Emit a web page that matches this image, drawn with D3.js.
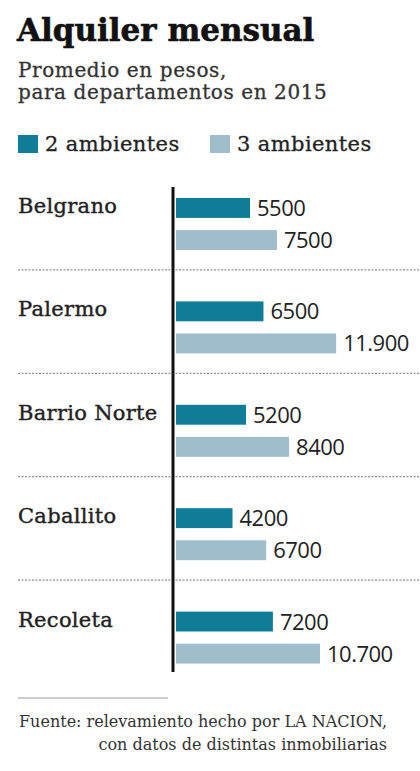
<!DOCTYPE html>
<html>
<head>
<meta charset="utf-8">
<script src="https://cdn.jsdelivr.net/npm/d3@7"></script>
<style>
  body { margin: 0; background: #fff; }
  svg { display: block; }
</style>
</head>
<body>
<svg width="420" height="771"></svg>
<script>
var barrios = ["Belgrano", "Palermo", "Barrio Norte", "Caballito", "Recoleta"];
var series = ["2 ambientes", "3 ambientes"];
var dos = [5500, 6500, 5200, 4200, 7200];
var tres = [7500, 11900, 8400, 6700, 10700];
var etiquetas2 = ["5500", "6500", "5200", "4200", "7200"];
var etiquetas3 = ["7500", "11.900", "8400", "6700", "10.700"];

var svg = d3.select("svg"),
    width = +svg.attr("width"),
    height = +svg.attr("height");

var colors = ["#0f7c98", "#a0bdcc"];
var serif = "'DejaVu Serif', serif";
var sans = "'Open Sans', 'Noto Sans', sans-serif";

// title block
svg.append("text")
    .attr("x", 17).attr("y", 41)
    .style("font-family", serif)
    .style("font-weight", "bold")
    .style("font-size", "31px")
    .attr("fill", "#111")
    .attr("stroke", "#111").attr("stroke-width", 0.6)
    .text("Alquiler mensual");

["Promedio en pesos,", "para departamentos en 2015"].forEach(function(t, i) {
    svg.append("text")
        .attr("x", 18).attr("y", 77 + i * 22)
        .style("font-family", serif)
        .style("font-size", "20px")
        .style("letter-spacing", "0.6px")
        .attr("fill", "#333")
        .attr("stroke", "#333").attr("stroke-width", 0.3)
        .text(t);
});

// legend
var legend = svg.selectAll(".legend")
    .data(series)
    .enter().append("g")
    .attr("class", "legend")
    .attr("transform", function(d, i) { return "translate(" + (18 + i * 192) + ",135)"; });
legend.append("rect")
    .attr("width", 20).attr("height", 18)
    .attr("fill", function(d, i) { return colors[i]; });
legend.append("text")
    .attr("x", 27).attr("y", 16)
    .style("font-family", serif)
    .style("font-size", "21px")
    .style("letter-spacing", "0.4px")
    .attr("fill", "#222")
    .attr("stroke", "#222").attr("stroke-width", 0.3)
    .text(function(d) { return d; });

// scales
var x = d3.scaleLinear().domain([0, 12000]).range([176, 337.5]);
var y = d3.scaleBand().domain(barrios).range([180, 697]).paddingInner(0).paddingOuter(0);
var yInner = d3.scaleBand().domain(series).range([18, 70]).paddingInner(0.38);

// separators
svg.append("g").selectAll("line")
    .data(barrios.slice(1))
    .enter().append("line")
    .attr("x1", 18).attr("x2", width)
    .attr("y1", function(d) { return y(d) - 13.5; })
    .attr("y2", function(d) { return y(d) - 13.5; })
    .attr("stroke", "#8f8f8f")
    .attr("stroke-width", 1.2)
    .attr("stroke-dasharray", "2,1.5");

var groups = svg.selectAll(".grupo")
    .data(barrios)
    .enter().append("g")
    .attr("class", "grupo")
    .attr("transform", function(d) { return "translate(0," + y(d) + ")"; });

groups.append("text")
    .attr("x", 18)
    .attr("y", 33)
    .style("font-family", serif)
    .style("font-size", "21px")
    .style("letter-spacing", "0.3px")
    .attr("fill", "#222")
    .attr("stroke", "#222").attr("stroke-width", 0.4)
    .text(function(d) { return d; });

var rows = [
    { vals: dos, labels: etiquetas2, key: series[0], color: colors[0] },
    { vals: tres, labels: etiquetas3, key: series[1], color: colors[1] }
];

rows.forEach(function(r) {
    groups.append("rect")
        .attr("x", x(0))
        .attr("y", yInner(r.key))
        .attr("height", yInner.bandwidth())
        .attr("width", function(d, i) { return x(r.vals[i]) - x(0); })
        .attr("fill", r.color);
    groups.append("text")
        .attr("x", function(d, i) { return x(r.vals[i]) + 7; })
        .attr("y", yInner(r.key) + yInner.bandwidth() / 2 + 8)
        .style("font-family", sans)
        .style("font-size", "22px")
        .style("letter-spacing", "-0.5px")
        .attr("fill", "#222")
        .text(function(d, i) { return r.labels[i]; });
});

// axis line
svg.append("line")
    .attr("x1", 173).attr("x2", 173)
    .attr("y1", 187).attr("y2", 672)
    .attr("stroke", "#111")
    .attr("stroke-width", 3);

// footer
svg.append("line")
    .attr("x1", 18).attr("x2", 168)
    .attr("y1", 698).attr("y2", 698)
    .attr("stroke", "#bbb")
    .attr("stroke-width", 1.5);

["Fuente: relevamiento hecho por LA NACION,", "con datos de distintas inmobiliarias"].forEach(function(t, i) {
    svg.append("text")
        .attr("x", 387).attr("y", 727 + i * 23)
        .attr("text-anchor", "end")
        .style("font-family", serif)
        .style("font-size", "16px")
        .attr("fill", "#333")
        .text(t);
});
</script>
</body>
</html>
